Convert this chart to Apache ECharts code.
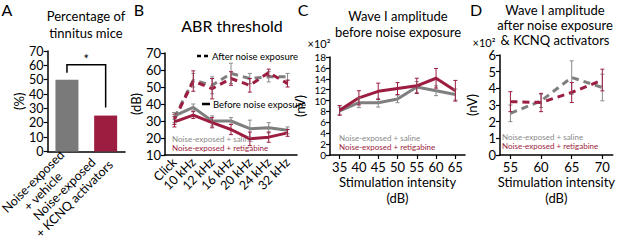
<!DOCTYPE html>
<html>
<head>
<meta charset="utf-8">
<script src="https://cdn.jsdelivr.net/npm/echarts@6/dist/echarts.min.js"></script>
<style>
html, body { margin: 0; padding: 0; background: #fff; }
#chart { width: 617px; height: 242px; }
</style>
</head>
<body>
<div id="chart"></div>
<script>
const GRAY = '#7f7f7f'
const RED = '#9c1d40'
const FONT = 'Lato, "Open Sans", sans-serif'

// A - percentage of tinnitus mice
const groupsA = ['Noise-exposed\n+ vehicle', 'Noise-exposed\n+ KCNQ activators']
const tinnitusPct = [50, 25]

// B - ABR threshold (dB)
const freqsB = ['Click', '10 kHz', '12 kHz', '16 kHz', '20 kHz', '24 kHz', '32 kHz']
const abrAfterSaline = [32, 54, 51, 58, 55, 56, 56]
const abrAfterSalineErr = [3, 4, 5, 6, 3, 3, 2]
const abrAfterRetig = [31, 53.5, 49, 55, 51, 58.5, 52]
const abrAfterRetigErr = [3, 6, 6, 4, 4, 2, 2]
const abrBeforeSaline = [33, 38, 30, 30, 25.5, 26, 24.5]
const abrBeforeSalineErr = [2, 2, 3, 2, 5, 3, 2]
const abrBeforeRetig = [29.5, 33.5, 29, 25, 19.5, 20.5, 23]
const abrBeforeRetigErr = [3, 2, 3, 3, 4, 3, 2]

// C - wave I amplitude before noise (x100 nV)
const dbC = [35, 40, 45, 50, 55, 60, 65]
const waveBeforeSaline = [8.1, 9.6, 9.6, 10.3, 12.5, 11.8, 11.1]
const waveBeforeSalineErr = [0.7, 0.9, 0.8, 0.7, 1.0, 0.9, 1.0]
const waveBeforeRetig = [8.2, 10.5, 11.7, 12.2, 12.7, 14.1, 11.8]
const waveBeforeRetigErr = [0.9, 1.3, 1.5, 1.1, 1.4, 1.8, 1.9]

// D - wave I amplitude after noise + KCNQ activators (x100 nV)
const dbD = [55, 60, 65, 70]
const waveAfterSaline = [2.5, 3.25, 4.65, 4.05]
const waveAfterSalineErr = [0.5, 0.4, 1.0, 0.8]
const waveAfterRetig = [3.2, 3.15, 3.75, 4.5]
const waveAfterRetigErr = [0.6, 0.55, 0.6, 0.65]

function pairs (xs, ys) {
  return ys.map((v, i) => [xs[i], v])
}
function errData (xs, ys, es) {
  return ys.map((v, i) => [xs[i], v - es[i], v + es[i]])
}
function errSeries (idx, data, color) {
  return {
    type: 'custom',
    xAxisIndex: idx,
    yAxisIndex: idx,
    data: data,
    z: 5,
    renderItem (params, api) {
      const lo = api.coord([api.value(0), api.value(1)])
      const hi = api.coord([api.value(0), api.value(2)])
      const w = 2
      const st = { stroke: color, lineWidth: 1 }
      return {
        type: 'group',
        children: [
          { type: 'line', shape: { x1: lo[0], y1: lo[1], x2: hi[0], y2: hi[1] }, style: st },
          { type: 'line', shape: { x1: lo[0] - w, y1: lo[1], x2: lo[0] + w, y2: lo[1] }, style: st },
          { type: 'line', shape: { x1: hi[0] - w, y1: hi[1], x2: hi[0] + w, y2: hi[1] }, style: st }
        ]
      }
    }
  }
}
function lineSeries (idx, data, color, dashed) {
  return {
    type: 'line',
    xAxisIndex: idx,
    yAxisIndex: idx,
    data: data,
    showSymbol: false,
    symbol: 'none',
    z: 3,
    lineStyle: { color: color, width: 3, type: dashed ? [7, 5] : 'solid' }
  }
}

const axisLine = { lineStyle: { color: '#000', width: 1.5 } }
const axisTick = { inside: false, length: 4, lineStyle: { color: '#000', width: 1.2 } }
const labelBase = { color: '#000', fontSize: 13, fontFamily: FONT }

function yAxis (idx, min, max, interval, name, gap, fs) {
  return {
    type: 'value', gridIndex: idx, min, max, interval,
    name, nameLocation: 'middle', nameRotate: 90, nameGap: gap,
    nameTextStyle: { color: '#000', fontSize: 13, fontFamily: FONT },
    axisLine: { show: true, ...axisLine },
    axisTick: { show: true, ...axisTick },
    axisLabel: { ...labelBase, fontSize: fs || 13, lineHeight: 10, margin: 4 },
    splitLine: { show: false }
  }
}

function txt (x, y, text, size, color, align) {
  return {
    type: 'text', x, y,
    style: {
      text, fill: color || '#000', fontSize: size, fontFamily: FONT,
      align: align || 'center', verticalAlign: 'middle'
    }
  }
}

const chartDom = document.getElementById('chart')
const myChart = echarts.init(chartDom, null, { renderer: 'svg' })

const xName = {
  name: 'Stimulation intensity\n(dB)', nameLocation: 'middle', nameGap: 18,
  nameTextStyle: { color: '#000', fontSize: 13, fontFamily: FONT, lineHeight: 16 }
}

const option = {
  animation: false,
  backgroundColor: '#fff',
  grid: [
    { left: 37, top: 51, width: 88, bottom: 87 },
    { left: 165, top: 53, width: 132, bottom: 87 },
    { left: 330, top: 57, width: 135, bottom: 87 },
    { left: 500, top: 55, width: 117, bottom: 87 }
  ],
  xAxis: [
    {
      type: 'category', gridIndex: 0, data: groupsA,
      axisLine, axisTick: { ...axisTick, alignWithLabel: true },
      axisLabel: {
        ...labelBase, fontSize: 12, rotate: 45, margin: 6, interval: 0,
        formatter: v => v.split('\n').map(s => '{a|' + s + '}').join('\n'),
        rich: { a: { fontSize: 12.5, fontFamily: FONT, color: '#000', align: 'center', lineHeight: 14 } }
      }
    },
    {
      type: 'category', gridIndex: 1, data: freqsB,
      axisLine, axisTick: { ...axisTick, alignWithLabel: true },
      axisLabel: { ...labelBase, fontSize: 12.5, rotate: 45, margin: 5, interval: 0 }
    },
    {
      type: 'value', gridIndex: 2, min: 32.5, max: 67.5,
      axisLine, splitLine: { show: false },
      axisTick: { ...axisTick, customValues: dbC },
      axisLabel: { ...labelBase, margin: 5, customValues: dbC },
      ...xName
    },
    {
      type: 'value', gridIndex: 3, min: 53.3, max: 71.7,
      axisLine, splitLine: { show: false },
      axisTick: { ...axisTick, customValues: dbD },
      axisLabel: { ...labelBase, margin: 5, customValues: dbD },
      ...xName
    }
  ],
  yAxis: [
    yAxis(0, 0, 70, 10, '(%)', 22, 12.5),
    yAxis(1, 10, 70, 10, '(dB)', 22),
    yAxis(2, 0, 18, 2, '(nV)', 24, 10),
    yAxis(3, 0, 6, 1, '(nV)', 22)
  ],
  series: [
    {
      type: 'bar', xAxisIndex: 0, yAxisIndex: 0,
      barWidth: 23,
      data: tinnitusPct.map((v, i) => ({ value: v, itemStyle: { color: i === 0 ? '#7a7a7a' : RED } }))
    },
    {
      // significance bracket
      type: 'custom', xAxisIndex: 0, yAxisIndex: 0,
      data: [[0, tinnitusPct[0], 1, tinnitusPct[1]]],
      z: 4,
      renderItem (params, api) {
        const p0 = api.coord([api.value(0), api.value(1)])
        const p1 = api.coord([api.value(2), api.value(3)])
        const top = Math.min(p0[1], p1[1]) - 15
        return {
          type: 'group',
          children: [
            {
              type: 'polyline',
              shape: { points: [[p0[0], p0[1] - 7], [p0[0], top], [p1[0], top], [p1[0], p1[1] - 8]] },
              style: { stroke: '#000', lineWidth: 1.5, fill: null }
            },
            {
              type: 'text', x: (p0[0] + p1[0]) / 2, y: top - 6,
              style: { text: '*', fontSize: 13, fontFamily: FONT, fill: '#000', align: 'center', verticalAlign: 'middle' }
            }
          ]
        }
      }
    },
    lineSeries(1, abrAfterSaline, GRAY, true),
    lineSeries(1, abrAfterRetig, RED, true),
    lineSeries(1, abrBeforeSaline, GRAY, false),
    lineSeries(1, abrBeforeRetig, RED, false),
    errSeries(1, errData(freqsB.map((f, i) => i), abrAfterSaline, abrAfterSalineErr), '#8a8a8a'),
    errSeries(1, errData(freqsB.map((f, i) => i), abrAfterRetig, abrAfterRetigErr), RED),
    errSeries(1, errData(freqsB.map((f, i) => i), abrBeforeSaline, abrBeforeSalineErr), '#8a8a8a'),
    errSeries(1, errData(freqsB.map((f, i) => i), abrBeforeRetig, abrBeforeRetigErr), RED),
    lineSeries(2, pairs(dbC, waveBeforeSaline), GRAY, false),
    lineSeries(2, pairs(dbC, waveBeforeRetig), RED, false),
    errSeries(2, errData(dbC, waveBeforeSaline, waveBeforeSalineErr), '#8a8a8a'),
    errSeries(2, errData(dbC, waveBeforeRetig, waveBeforeRetigErr), RED),
    lineSeries(3, pairs(dbD, waveAfterSaline), GRAY, true),
    lineSeries(3, pairs(dbD, waveAfterRetig), RED, true),
    errSeries(3, errData(dbD, waveAfterSaline, waveAfterSalineErr), '#8a8a8a'),
    errSeries(3, errData(dbD, waveAfterRetig, waveAfterRetigErr), RED)
  ],
  graphic: [
    // panel letters
    txt(7, 9, 'A', 16), txt(139, 9, 'B', 16), txt(303, 9, 'C', 16), txt(476, 9, 'D', 16),
    // titles
    txt(86, 16, 'Percentage of', 13), txt(86, 33, 'tinnitus mice', 13),
    txt(232, 25, 'ABR threshold', 16),
    txt(398, 16, 'Wave I amplitude', 13), txt(398, 32, 'before noise exposure', 13),
    txt(555, 10, 'Wave I amplitude', 13), txt(555, 25, 'after noise exposure', 13), txt(555, 40, '& KCNQ activators', 13),
    txt(319, 43, '×10²', 11), txt(484, 42, '×10²', 11),
    // B line-style key
    { type: 'line', shape: { x1: 197, y1: 56, x2: 209, y2: 56 }, style: { stroke: '#000', lineWidth: 2.5, lineDash: [4, 3] } },
    txt(212, 56, 'After noise exposure', 9.5, '#000', 'left'),
    { type: 'line', shape: { x1: 202, y1: 104, x2: 210, y2: 104 }, style: { stroke: '#000', lineWidth: 2.5 } },
    txt(213, 104, 'Before noise exposure', 9.5, '#000', 'left'),
    // group keys
    txt(172, 139, 'Noise-exposed + saline', 8, '#8a8a8a', 'left'),
    txt(172, 148, 'Noise-exposed + retigabine', 8, RED, 'left'),
    txt(339, 138, 'Noise-exposed + saline', 8, '#8a8a8a', 'left'),
    txt(339, 147, 'Noise-exposed + retigabine', 8, RED, 'left'),
    txt(502, 137, 'Noise-exposed + saline', 8, '#8a8a8a', 'left'),
    txt(502, 146, 'Noise-exposed + retigabine', 8, RED, 'left')
  ]
}

myChart.setOption(option)
</script>
</body>
</html>
